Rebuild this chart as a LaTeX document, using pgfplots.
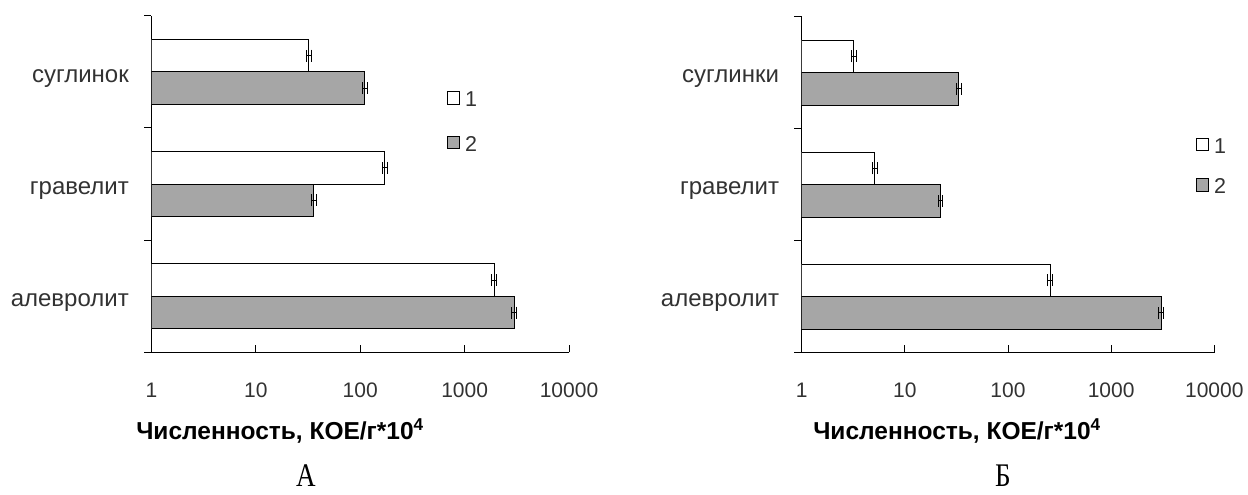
\documentclass[border=0pt]{standalone}
\usepackage{pgfplots}
\pgfplotsset{compat=1.18}
\usepackage{fontspec}
\setmainfont{Liberation Sans}
\newfontfamily\seriffont{Liberation Serif}
\definecolor{bargray}{RGB}{166,166,166}
\definecolor{txtgray}{RGB}{50,50,50}

\begin{document}
\begin{tikzpicture}
\path[use as bounding box] (0pt,0pt) rectangle (1248pt,495pt);

% Panel A
\begin{axis}[
  at={(151.5pt,142.5pt)}, anchor=south west,
  scale only axis, width=417.5pt, height=336.8pt,
  xmode=log, xmin=1, xmax=10000, ymin=-0.5, ymax=2.5,
  axis x line*=bottom, axis y line*=left,
  axis line style={-, line width=1pt, black},
  xtick={1,10,100,1000,10000},
  xticklabels={1,10,100,1000,10000},
  xminorticks=false,
  ytick={0,1,2},
  yticklabels={алевролит,гравелит,суглинок},
  minor ytick={-0.5,0.5,1.5,2.5},
  major x tick style={line width=1pt, black},
  minor y tick style={line width=1pt, black},
  major y tick style={draw=none},
  tick align=inside,
  major tick length=7.5pt, minor tick length=7.5pt,
  xticklabel style={font=\fontsize{21}{25}\selectfont, text=txtgray, anchor=base, inner sep=0pt, yshift=-45pt},
  yticklabel style={font=\fontsize{24}{28}\selectfont, text=txtgray, anchor=base east, inner sep=0pt, xshift=-15pt, yshift=-10.2pt},
  xbar, bar width=0.29,
  xlabel={Численность, КОЕ/г*10\textsuperscript{4}},
  xlabel style={font=\bfseries\fontsize{24.5}{28}\selectfont, anchor=base, at={(axis description cs:0.3078,-0.2598)}},
  legend image code/.code={\draw[#1] (0pt,-5pt) rectangle (12.5pt,7.5pt);},
  legend style={draw=none, fill=none, inner sep=0pt, outer sep=0pt,
    font=\fontsize{21.5}{25}\selectfont, text=txtgray,
    nodes={inner sep=0pt, text height=15pt, text depth=0pt},
    column sep=5pt, row sep=28.8pt,
    at={(axis description cs:0.7071,0.7756)}, anchor=north west},
  legend cell align=left,
]
\addplot[draw=black, fill=white, line width=1pt, bar shift=0.145,
  error bars/.cd, x dir=both, x explicit relative, error mark=|,
  error bar style={line width=1pt, black},
  error mark options={line width=1pt, black, mark size=6pt}]
  coordinates {(1920,0) +- (0.055,0) (172,1) +- (0.055,0) (32,2) +- (0.055,0)};
\addplot[draw=black, fill=bargray, line width=1pt, bar shift=-0.145,
  error bars/.cd, x dir=both, x explicit relative, error mark=|,
  error bar style={line width=1pt, black},
  error mark options={line width=1pt, black, mark size=6pt}]
  coordinates {(2985,0) +- (0.055,0) (36,1) +- (0.055,0) (111,2) +- (0.055,0)};
\legend{1,2}
\end{axis}

% Panel B
\begin{axis}[
  at={(801.7pt,142.3pt)}, anchor=south west,
  scale only axis, width=412.6pt, height=336pt,
  xmode=log, xmin=1, xmax=10000, ymin=-0.5, ymax=2.5,
  axis x line*=bottom, axis y line*=left,
  axis line style={-, line width=1pt, black},
  xtick={1,10,100,1000,10000},
  xticklabels={1,10,100,1000,10000},
  xminorticks=false,
  ytick={0,1,2},
  yticklabels={алевролит,гравелит,суглинки},
  minor ytick={-0.5,0.5,1.5,2.5},
  major x tick style={line width=1pt, black},
  minor y tick style={line width=1pt, black},
  major y tick style={draw=none},
  tick align=inside,
  major tick length=7.5pt, minor tick length=7.5pt,
  xticklabel style={font=\fontsize{21}{25}\selectfont, text=txtgray, anchor=base, inner sep=0pt, yshift=-45pt},
  yticklabel style={font=\fontsize{24}{28}\selectfont, text=txtgray, anchor=base east, inner sep=0pt, xshift=-15pt, yshift=-10.2pt},
  xbar, bar width=0.29,
  xlabel={Численность, КОЕ/г*10\textsuperscript{4}},
  xlabel style={font=\bfseries\fontsize{24.5}{28}\selectfont, anchor=base, at={(axis description cs:0.3764,-0.2598)}},
  legend image code/.code={\draw[#1] (0pt,-5pt) rectangle (12.5pt,7.5pt);},
  legend style={draw=none, fill=none, inner sep=0pt, outer sep=0pt,
    font=\fontsize{21.5}{25}\selectfont, text=txtgray,
    nodes={inner sep=0pt, text height=15pt, text depth=0pt},
    column sep=5pt, row sep=25pt,
    at={(axis description cs:0.955,0.640)}, anchor=north west},
  legend cell align=left,
]
\addplot[draw=black, fill=white, line width=1pt, bar shift=0.145,
  error bars/.cd, x dir=both, x explicit relative, error mark=|,
  error bar style={line width=1pt, black},
  error mark options={line width=1pt, black, mark size=6pt}]
  coordinates {(256,0) +- (0.055,0) (5.1,1) +- (0.055,0) (3.2,2) +- (0.055,0)};
\addplot[draw=black, fill=bargray, line width=1pt, bar shift=-0.145,
  error bars/.cd, x dir=both, x explicit relative, error mark=|,
  error bar style={line width=1pt, black},
  error mark options={line width=1pt, black, mark size=6pt}]
  coordinates {(3077,0) +- (0.055,0) (22.2,1) +- (0.055,0) (33.4,2) +- (0.055,0)};
\legend{1,2}
\end{axis}

\node[anchor=base, font=\seriffont\fontsize{33}{38}\selectfont, inner sep=0pt, xscale=0.82] at (306pt,8pt) {А};
\node[anchor=base, font=\seriffont\fontsize{33}{38}\selectfont, inner sep=0pt, xscale=0.82] at (1003pt,8pt) {Б};
\end{tikzpicture}
\end{document}
